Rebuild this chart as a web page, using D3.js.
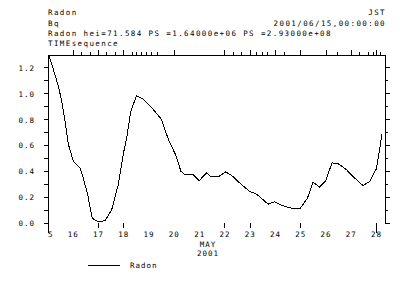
<!DOCTYPE html>
<html>
<head>
<meta charset="utf-8">
<script src="https://cdn.jsdelivr.net/npm/d3@7"></script>
<style>
  body { margin: 0; background: #fff; }
  text { font-family: "DejaVu Sans Mono", monospace; fill: #000; }
</style>
</head>
<body>
<div id="chart"></div>
<script>
// header lines
const headerLeft = ["Radon", "Bq", "Radon hei=71.584 PS =1.64000e+06 PS =2.93000e+08", "TIMEsequence"];
const headerRight = ["JST", "2001/06/15,00:00:00"];

// radon series: hours after 2001-05-15 00:00 and value (Bq)
const hours = [1, 5, 9.8, 13, 16.1, 19.3, 24, 30.4, 33.5, 37.7, 42, 47.7, 54.1, 60.4, 66.7, 71.4, 74.7,
  78.7, 84.1, 90.4, 98.4, 107.9, 112.6, 115.7, 121.1, 126.2, 130, 137.8, 143.5, 150.5, 155.3, 161.5,
  168.6, 174.3, 182.1, 191.6, 198, 209, 215.3, 223.2, 231.2, 239.7, 246.4, 251.7, 258, 263.7, 269.7,
  275.4, 283.3, 291.2, 299.1, 305.5, 311.8, 314.9, 317.1];
const radon = [1.296, 1.19, 1.06, 0.945, 0.79, 0.61, 0.478, 0.426, 0.348, 0.218, 0.037, 0.01, 0.018, 0.10,
  0.296, 0.53, 0.66, 0.867, 0.985, 0.959, 0.894, 0.80, 0.686, 0.62, 0.53, 0.40, 0.374, 0.374, 0.327,
  0.387, 0.356, 0.356, 0.395, 0.369, 0.309, 0.244, 0.224, 0.146, 0.164, 0.133, 0.115, 0.115, 0.193,
  0.317, 0.278, 0.327, 0.465, 0.46, 0.413, 0.348, 0.29, 0.322, 0.42, 0.569, 0.686];

// axis ticks
const yLabels = [0, 0.2, 0.4, 0.6, 0.8, 1.0, 1.2];
const yMinor = [0.1, 0.3, 0.5, 0.7, 0.9, 1.1];
const dayLabels = [15, 16, 17, 18, 19, 20, 21, 22, 23, 24, 25, 26, 27, 28];
const bottomTickDays = [17, 18, 22, 23, 25, 28];
const topTickHours = [24, 32, 40, 48, 56, 64, 72, 80, 84, 89, 94, 98, 104, 120, 168, 176, 184, 192, 198,
  204, 208, 216, 225, 240, 264, 275, 288, 296, 304, 309, 312, 316];

(() => {
  const width = 400, height = 289;
  const mLeft = 48, mRight = 385, mTop = 55, mBottom = 223;

  const svg = d3.select("#chart").append("svg")
    .attr("width", width).attr("height", height);

  const t0 = Date.UTC(2001, 4, 15);
  const toDate = h => new Date(t0 + h * 3600e3);

  const x = d3.scaleUtc()
    .domain([toDate(0), toDate(320)])
    .range([mLeft, mRight]);
  const y = d3.scaleLinear()
    .domain([0, 1.3])
    .range([mBottom, mTop]);

  // header
  const hdrY = [15, 25.5, 36, 46];
  svg.append("g").selectAll("text")
    .data(headerLeft).enter().append("text")
    .attr("x", mLeft).attr("y", (d, i) => hdrY[i])
    .style("font-size", "7.5px").style("letter-spacing", "1.4px")
    .text(d => d);
  svg.append("g").selectAll("text")
    .data(headerRight).enter().append("text")
    .attr("x", mRight + 1).attr("y", (d, i) => hdrY[i])
    .attr("text-anchor", "end")
    .style("font-size", "7.5px").style("letter-spacing", "1.4px")
    .text(d => d);

  const axes = svg.append("g")
    .attr("stroke", "#000").attr("stroke-width", 1)
    .attr("shape-rendering", "crispEdges");

  // frame: top, left (longer), right
  axes.append("line").attr("x1", mLeft).attr("x2", mRight).attr("y1", mTop).attr("y2", mTop);
  axes.append("line").attr("x1", mLeft).attr("x2", mLeft).attr("y1", mTop).attr("y2", 233);
  axes.append("line").attr("x1", mRight).attr("x2", mRight).attr("y1", mTop).attr("y2", mBottom);

  // top ticks
  axes.selectAll(".tt")
    .data(topTickHours).enter().append("line")
    .attr("x1", d => x(toDate(d))).attr("x2", d => x(toDate(d)))
    .attr("y1", mTop).attr("y2", d => d % 24 === 0 ? mTop - 5 : mTop - 3);

  // left / right ticks
  axes.selectAll(".lt")
    .data(yLabels.concat(yMinor)).enter().append("line")
    .attr("x1", mLeft - 4).attr("x2", mLeft)
    .attr("y1", d => y(d)).attr("y2", d => y(d));
  axes.selectAll(".rt")
    .data(yLabels.concat(yMinor)).enter().append("line")
    .attr("x1", mRight).attr("x2", d => yLabels.includes(d) ? mRight + 5 : mRight + 3)
    .attr("y1", d => y(d)).attr("y2", d => y(d));

  // bottom ticks
  axes.selectAll(".bt")
    .data(bottomTickDays).enter().append("line")
    .attr("x1", d => x(toDate((d - 15) * 24))).attr("x2", d => x(toDate((d - 15) * 24)))
    .attr("y1", mBottom).attr("y2", d => d === 28 ? 233 : mBottom + 5);

  // y labels
  svg.append("g").selectAll("text")
    .data(yLabels).enter().append("text")
    .attr("x", 35).attr("y", d => y(d) + 3)
    .attr("text-anchor", "end")
    .style("font-size", "7.5px").style("letter-spacing", "1px")
    .text(d => d.toFixed(1));

  // x labels
  svg.append("g").selectAll("text")
    .data(dayLabels).enter().append("text")
    .attr("x", d => x(toDate((d - 15) * 24)))
    .attr("y", 237)
    .attr("text-anchor", "middle")
    .style("font-size", "7.5px").style("letter-spacing", "1px")
    .text(d => d);
  // hide the part of "15" left of the axis
  svg.append("rect").attr("x", 0).attr("y", 226).attr("width", mLeft).attr("height", 14).attr("fill", "#fff");
  svg.append("line").attr("x1", mLeft).attr("x2", mLeft).attr("y1", 226).attr("y2", 233)
    .attr("stroke", "#000").attr("shape-rendering", "crispEdges");

  svg.append("text").attr("x", 208).attr("y", 247).attr("text-anchor", "middle")
    .style("font-size", "7.5px").style("letter-spacing", "1px").text("MAY");
  svg.append("text").attr("x", 208).attr("y", 256).attr("text-anchor", "middle")
    .style("font-size", "7.5px").style("letter-spacing", "1px").text("2001");

  // series
  const line = d3.line()
    .x((d, i) => x(toDate(hours[i])))
    .y(d => y(d));
  svg.append("path")
    .datum(radon)
    .attr("fill", "none").attr("stroke", "#000").attr("stroke-width", 1)
    .attr("shape-rendering", "crispEdges")
    .attr("d", line);

  // legend
  svg.append("line").attr("x1", 88).attr("x2", 120).attr("y1", 265.5).attr("y2", 265.5)
    .attr("stroke", "#000").attr("shape-rendering", "crispEdges");
  svg.append("text").attr("x", 130).attr("y", 268)
    .style("font-size", "7.5px").style("letter-spacing", "1px").text("Radon");
})();
</script>
</body>
</html>
